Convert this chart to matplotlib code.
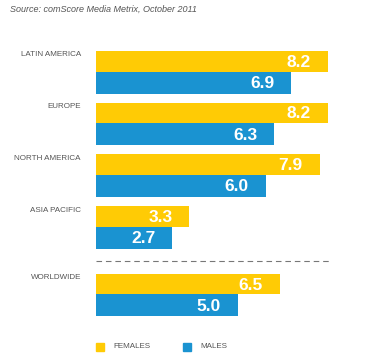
import matplotlib.pyplot as plt

regions = ['LATIN AMERICA', 'EUROPE', 'NORTH AMERICA', 'ASIA PACIFIC', 'WORLDWIDE']
females = [8.2, 8.2, 7.9, 3.3, 6.5]
males = [6.9, 6.3, 6.0, 2.7, 5.0]

yellow = '#FFCB05'
blue = '#1A93D1'
grey = '#555555'
plt.rcParams['font.family'] = ['Liberation Sans', 'DejaVu Sans']

W, H = 390, 359
fig = plt.figure(figsize=(W / 100, H / 100), dpi=100)
# axes in pixel-like y units, x in data units starting at the bar base
x0 = 96
ax = fig.add_axes([x0 / W, 0, 1 - x0 / W, 1])
ax.set_xlim(0, (W - x0) / 28.3)
ax.set_ylim(H, 0)
ax.axis('off')

top = 51
step = 51.7
gap = 16
hf, hm = 20.5, 22

for i, name in enumerate(regions):
    y = top + i * step + (gap if name == 'WORLDWIDE' else 0)
    ax.barh(y, females[i], height=hf, align='edge', color=yellow)
    ax.barh(y + hf, males[i], height=hm, align='edge', color=blue)
    ax.annotate(name, (0, y + 4), xytext=(-15, 0), textcoords='offset pixels',
                ha='right', va='center', fontsize=5.8, color=grey)
    ax.annotate(f'{females[i]:.1f}', (females[i], y + hf / 2 + 1), xytext=(-17, 0),
                textcoords='offset pixels', ha='right', va='center',
                fontsize=12.5, fontweight='bold', color='white')
    ax.annotate(f'{males[i]:.1f}', (males[i], y + hf + hm / 2 + 1), xytext=(-17, 0),
                textcoords='offset pixels', ha='right', va='center',
                fontsize=12.5, fontweight='bold', color='white')

# dashed separator before worldwide
sep = top + 3 * step + hf + hm + 12
ax.plot([0, 8.3], [sep, sep], color='#777777', lw=0.8, ls=(0, (5, 3.5)))

fig.text(10 / W, 1 - 9 / H, 'Source: comScore Media Metrix, October 2011',
         fontsize=6.5, style='italic', color=grey, va='center')

# legend
for lx, lab, col in [(96, 'FEMALES', yellow), (183, 'MALES', blue)]:
    fig.patches.append(plt.Rectangle((lx / W, 1 - 351 / H), 8 / W, 8 / H,
                                     transform=fig.transFigure, color=col))
    fig.text((lx + 17) / W, 1 - 347 / H, lab, fontsize=5.8, color=grey, va='center')

fig.savefig('out.png', dpi=100)
